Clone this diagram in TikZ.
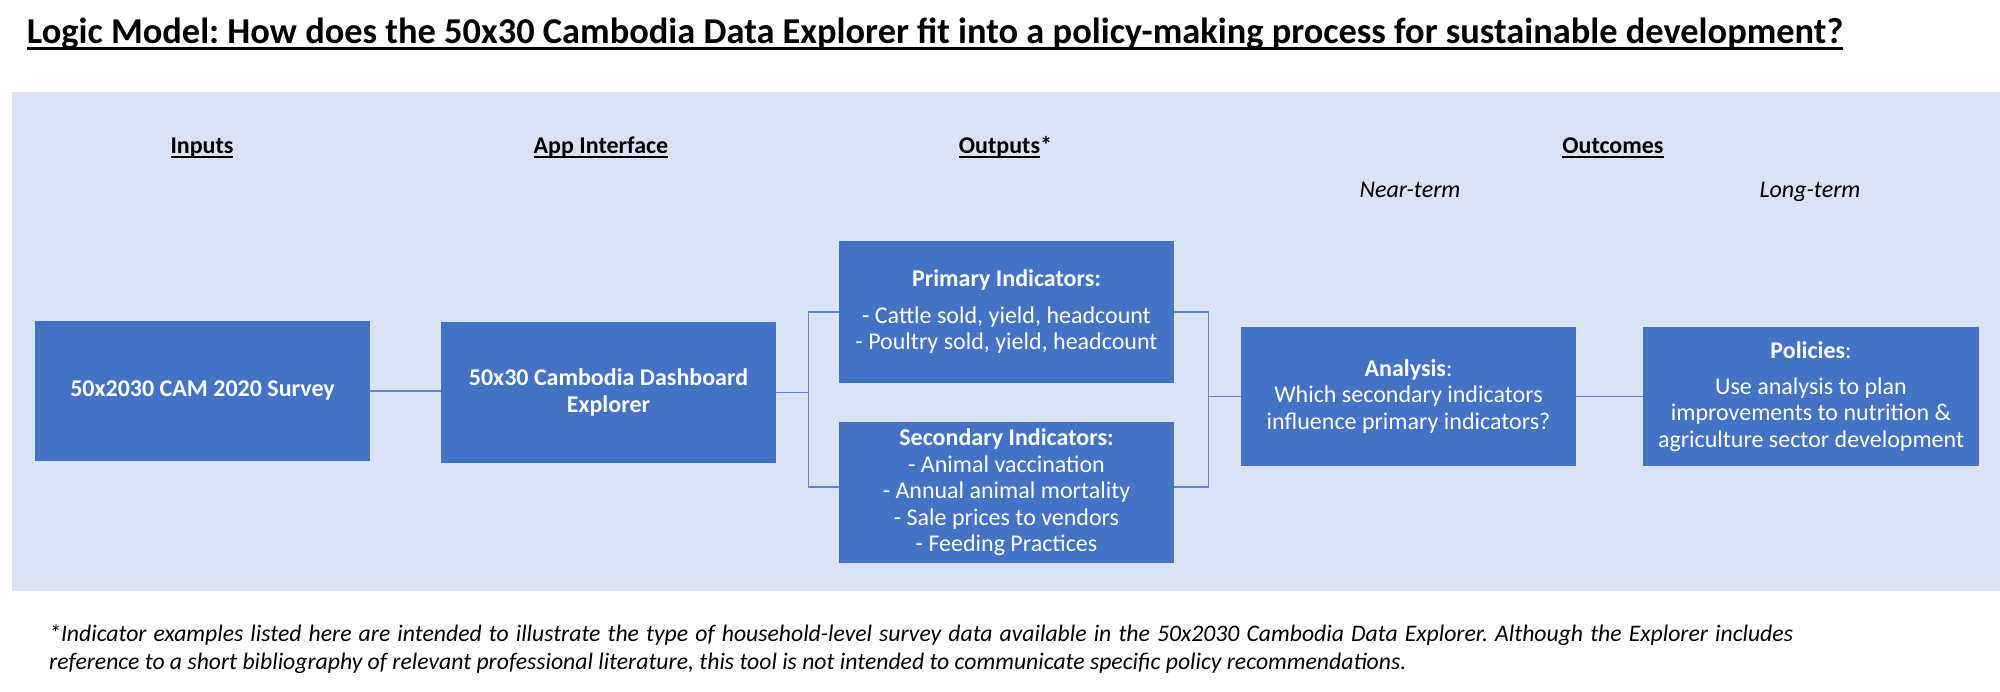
\documentclass[tikz,border=0pt]{standalone}
\usepackage{fontspec}
\setmainfont{Carlito}
\frenchspacing
\definecolor{boxblue}{RGB}{68,114,196}
\definecolor{bgblue}{RGB}{218,227,243}
\definecolor{lineblue}{RGB}{96,134,206}
\newsavebox\ulbox
\newcommand{\myul}[3]{\sbox\ulbox{#3}\rlap{\rule[#1]{\wd\ulbox}{#2}}\usebox\ulbox}

\begin{document}
\begin{tikzpicture}[x=1pt,y=-1pt,
  card/.style={fill=boxblue, draw=none, text=white, minimum width=335pt, minimum height=140pt, inner sep=0pt, align=center, font=\fontsize{24}{26.5}\selectfont},
  head/.style={anchor=base, inner sep=0pt, font=\fontsize{24}{28}\selectfont\bfseries},
  term/.style={anchor=base, inner sep=0pt, font=\fontsize{24}{28}\selectfont\itshape},
  conn/.style={draw=lineblue, line width=1.4pt},
  note/.style={anchor=base west, inner sep=0pt, font=\fontsize{23.7}{28}\selectfont\itshape}]

\useasboundingbox (0,0) rectangle (2000,691);
\fill[white] (0,0) rectangle (2000,691);
\fill[bgblue] (11.5,91.5) rectangle (2000,591);

\node[anchor=base, inner sep=0pt, font=\fontsize{36.4}{40}\selectfont\bfseries] (title) at (935,43.3)
  {\myul{-6.2pt}{2.4pt}{Logic Model: How does the 50x30 Cambodia Data Explorer fit into a policy-making process for sustainable development?}};

\node[head] (hin) at (202,153) {\myul{-5pt}{2pt}{Inputs}};
\node[head] (happ) at (601,153) {\myul{-5pt}{2pt}{App Interface}};
\node[head] (hout) at (1005.5,153) {\myul{-5pt}{2pt}{Outputs}*};
\node[head] (hoc) at (1613,153) {\myul{-5pt}{2pt}{Outcomes}};
\node[term] (near) at (1410,197) {Near-term};
\node[term] (long) at (1810,197) {Long-term};

\node[card, minimum height=140.5pt] (b1) at (202.5,391) {\textbf{50x2030 CAM 2020 Survey}};
\node[card, minimum height=141pt] (b2) at (608.5,392.5) {\textbf{50x30 Cambodia Dashboard}\\\textbf{Explorer}};
\node[card, minimum height=142pt] (pri) at (1006.5,312) {\textbf{Primary Indicators:}\\[10pt]- Cattle sold, yield, headcount\\- Poultry sold, yield, headcount};
\node[card, minimum height=141pt] (sec) at (1006.5,492.5) {\textbf{Secondary Indicators:}\\- Animal vaccination\\- Annual animal mortality\\- Sale prices to vendors\\- Feeding Practices};
\node[card, minimum height=139pt] (ana) at (1408.5,396.5) {\textbf{Analysis}:\\Which secondary indicators\\influence primary indicators?};
\node[card, minimum height=139pt, minimum width=335.5pt] (pol) at (1811,396.5) {\textbf{Policies}:\\[9.5pt]Use analysis to plan\\improvements to nutrition \&\\agriculture sector development};

\coordinate (lb) at (808.3,392.5);
\coordinate (rb) at (1208.3,396.5);
\draw[conn] (b1.east) -- (b2.west |- b1.east);
\draw[conn] (b2.east) -- (lb);
\draw[conn] (pri.west) -| (lb) |- ([yshift=5.5pt]sec.west);
\draw[conn] (pri.east) -| (rb) |- ([yshift=5.5pt]sec.east);
\draw[conn] (rb) -- (ana.west);
\draw[conn] (ana.east) -- (pol.west);

\node[note] (fn1) at (49,641) {\makebox[1744pt][s]{*Indicator examples listed here are intended to illustrate the type of household-level survey data available in the 50x2030 Cambodia Data Explorer. Although the Explorer includes}};
\node[note] (fn2) at (49,669) {reference to a short bibliography of relevant professional literature, this tool is not intended to communicate specific policy recommendations.};
\end{tikzpicture}
\end{document}
